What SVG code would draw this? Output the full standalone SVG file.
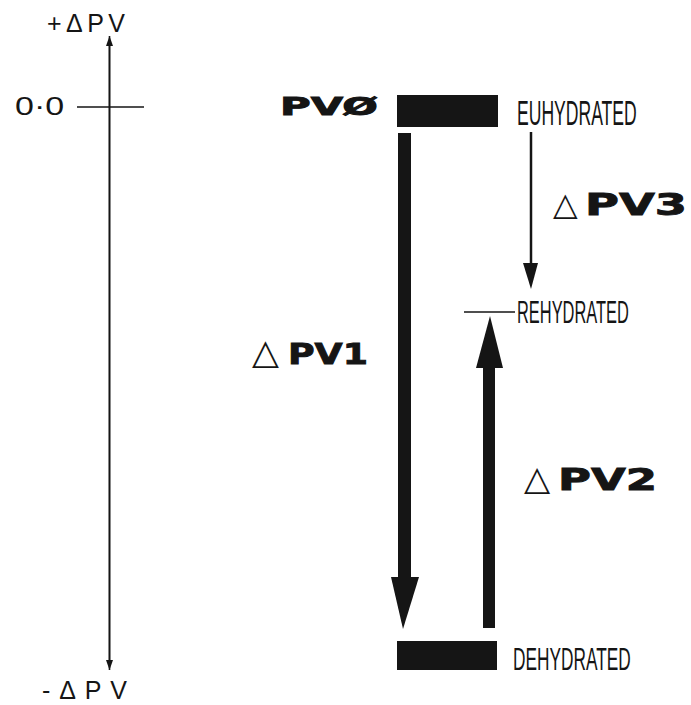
<svg xmlns="http://www.w3.org/2000/svg" width="691" height="705" viewBox="0 0 691 705">
  <style>
    .ink { fill: #151515; }
    .line { stroke: #151515; fill: none; }
    .axis-label { font-family: "Liberation Sans", "DejaVu Sans", sans-serif; font-size: 25px; fill: #151515; }
    .state { font-family: "Liberation Sans", "DejaVu Sans", sans-serif; fill: #151515; }
    .big { font-family: "DejaVu Sans", "Liberation Sans", sans-serif; font-weight: bold; fill: #151515; stroke: #151515; stroke-width: 0.9; }
    .delta { font-family: "DejaVu Sans", sans-serif; font-weight: normal; fill: #151515; stroke: none; }
  </style>
  <defs>
    <marker id="axisHead" viewBox="0 0 10 10" refX="10" refY="5" markerWidth="10" markerHeight="10" markerUnits="userSpaceOnUse" orient="auto">
      <path d="M0,1.5 L10,5 L0,8.5 Z" fill="#151515"/>
    </marker>
  </defs>

  <rect width="691" height="705" fill="#ffffff"/>

  <!-- reference axis -->
  <g id="axis">
    <line class="line" x1="109.5" y1="665" x2="109.5" y2="36" stroke-width="1.6" marker-end="url(#axisHead)"/>
    <line class="line" x1="109.5" y1="40" x2="109.5" y2="670" stroke-width="1.6" marker-end="url(#axisHead)"/>
    <line class="line" x1="77" y1="107" x2="144" y2="107" stroke-width="1.6"/>
    <text class="axis-label" x="47" y="32" textLength="78" lengthAdjust="spacing">+ΔPV</text>
    <text class="axis-label" transform="translate(15,115) scale(1.36,1)" font-size="27">0·0</text>
    <text class="axis-label" x="42" y="699" textLength="85" lengthAdjust="spacing">-ΔPV</text>
  </g>

  <!-- euhydrated state -->
  <g id="euhydrated">
    <text class="big" x="280" y="115" font-size="24" textLength="98" lengthAdjust="spacingAndGlyphs">PVØ</text>
    <rect class="ink" x="397" y="95" width="101" height="32"/>
    <text class="state" transform="translate(517,125) scale(0.502,1)" font-size="35">EUHYDRATED</text>
  </g>

  <!-- rehydrated state -->
  <g id="rehydrated">
    <line class="line" x1="464" y1="312" x2="515" y2="312" stroke-width="1.6"/>
    <text class="state" transform="translate(517,323) scale(0.513,1)" font-size="32">REHYDRATED</text>
  </g>

  <!-- dehydrated state -->
  <g id="dehydrated">
    <rect class="ink" x="397" y="641" width="100" height="29"/>
    <text class="state" transform="translate(513,670) scale(0.54,1)" font-size="32">DEHYDRATED</text>
  </g>

  <!-- transitions -->
  <g id="connectors">
    <!-- PV1: euhydrated to dehydrated -->
    <rect class="ink" x="398" y="133" width="13" height="446"/>
    <path class="ink" d="M391,577 L419,577 L403,629 Z"/>
    <!-- PV2: dehydrated to rehydrated -->
    <rect class="ink" x="483" y="366" width="12" height="262"/>
    <path class="ink" d="M476,368 L503,368 L490,316 Z"/>
    <!-- PV3: euhydrated to rehydrated -->
    <line class="line" x1="531" y1="132" x2="531" y2="266" stroke-width="2.5"/>
    <path class="ink" d="M523,263 L538,263 L531,289 Z"/>
  </g>

  <!-- transition labels -->
  <g id="labels">
    <text class="big" y="364" font-size="29"><tspan class="delta" x="252" font-size="35">△</tspan><tspan x="288" textLength="80" lengthAdjust="spacingAndGlyphs">PV1</tspan></text>
    <text class="big" y="490" font-size="31"><tspan class="delta" x="524" font-size="34">△</tspan><tspan x="558" textLength="99" lengthAdjust="spacingAndGlyphs">PV2</tspan></text>
    <text class="big" y="215" font-size="31"><tspan class="delta" x="553" font-size="32">△</tspan><tspan x="585" textLength="102" lengthAdjust="spacingAndGlyphs">PV3</tspan></text>
  </g>
</svg>
